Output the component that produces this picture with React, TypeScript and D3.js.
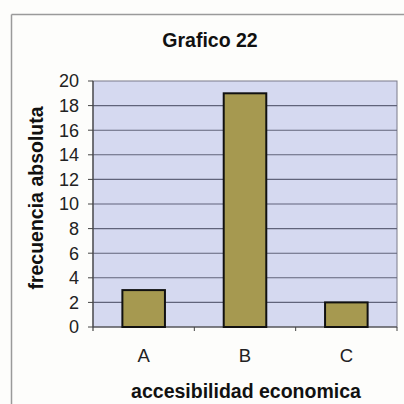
import React from "react";
import * as d3 from "d3";

const categories = ["A", "B", "C"];
const values = [3, 19, 2];
const yTicks = [0, 2, 4, 6, 8, 10, 12, 14, 16, 18, 20];
const title = "Grafico 22";
const xTitle = "accesibilidad economica";
const yTitle = "frecuencia absoluta";

export default function App() {
  const W = 404, H = 404;
  const left = 93, right = 397, top = 81, bottom = 327;
  const x = d3.scaleBand<string>().domain(categories).range([left, right]).paddingInner(0.58).paddingOuter(0.29);
  const xb = d3.scaleBand<string>().domain(categories).range([left, right]);
  const y = d3.scaleLinear().domain([0, 20]).range([bottom, top]);
  const font = "'Liberation Sans', Arial, sans-serif";
  return (
    <svg width={W} height={H} style={{ position: "absolute", left: 0, top: 0, background: "#fdfdfb" }}>
      <rect x={0} y={0} width={W} height={H} fill="#fdfdfb" />
      <line x1={11.5} y1={14.5} x2={W} y2={14.5} stroke="#9a9a9a" strokeWidth={1.5} />
      <line x1={11.5} y1={14.5} x2={11.5} y2={H} stroke="#9a9a9a" strokeWidth={1.5} />
      <text x={210} y={47} textAnchor="middle" fontFamily={font} fontWeight="bold" fontSize={19.5} fill="#111">{title}</text>
      <rect x={left} y={top} width={right - left} height={bottom - top} fill="#d5d9f0" stroke="#7a7a8a" strokeWidth={1} />
      {yTicks.map((t) => (
        <g key={t}>
          {t > 0 && t < 20 && <line x1={left} x2={right} y1={y(t)} y2={y(t)} stroke="#60637a" strokeWidth={1.1} />}
          <line x1={left - 5} x2={left} y1={y(t)} y2={y(t)} stroke="#444" strokeWidth={1} />
          <text x={79} y={y(t)} dy="0.36em" textAnchor="end" fontFamily={font} fontSize={18} fill="#222">{t}</text>
        </g>
      ))}
      <line x1={left} x2={left} y1={top} y2={bottom + 4} stroke="#444" strokeWidth={1.2} />
      <line x1={left} x2={right} y1={bottom} y2={bottom} stroke="#444" strokeWidth={1.2} />
      {categories.map((c, i) => (
        <g key={c}>
          <line x1={(xb(c) as number) + xb.bandwidth()} x2={(xb(c) as number) + xb.bandwidth()} y1={bottom} y2={bottom + 4} stroke="#444" />
          <rect x={x(c)} y={y(values[i])} width={x.bandwidth()} height={bottom - y(values[i])} fill="#a69950" stroke="#111" strokeWidth={2} />
          <text x={(x(c) as number) + x.bandwidth() / 2} y={362} textAnchor="middle" fontFamily={font} fontSize={18.5} fill="#222">{c}</text>
        </g>
      ))}
      <text x={246} y={398} textAnchor="middle" fontFamily={font} fontWeight="bold" fontSize={19.5} fill="#111">{xTitle}</text>
      <text transform={`translate(43,${198}) rotate(-90)`} textAnchor="middle" fontFamily={font} fontWeight="bold" fontSize={19.5} fill="#111">{yTitle}</text>
    </svg>
  );
}
